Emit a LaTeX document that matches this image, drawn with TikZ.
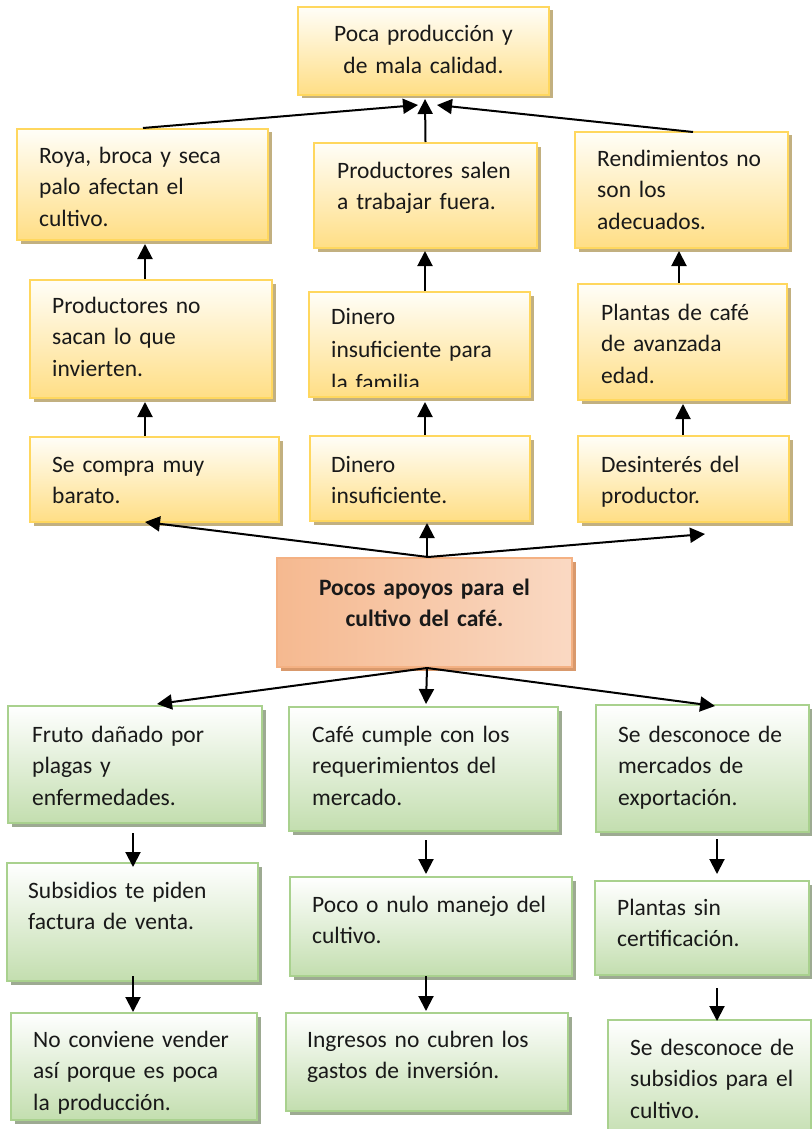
\documentclass[tikz,border=0pt]{standalone}
\usepackage{fontspec}
\setmainfont{Carlito}
\usetikzlibrary{arrows.meta,calc,shadows}
\definecolor{ytop}{HTML}{FFFEF8}
\definecolor{ybot}{HTML}{FFDE85}
\definecolor{ybord}{HTML}{FFD75E}
\definecolor{yshad}{HTML}{C2B080}
\definecolor{gtop}{HTML}{FFFFFF}
\definecolor{gbot}{HTML}{C3DEAF}
\definecolor{gbord}{HTML}{A9D18E}
\definecolor{gshad}{HTML}{9DAA92}
\definecolor{odark}{HTML}{F4B183}
\definecolor{olight}{HTML}{FCE6D8}
\definecolor{oshad}{HTML}{D9996C}
\tikzset{
  ybox/.style={draw=ybord, line width=2pt, top color=ytop, bottom color=ybot, inner sep=0pt,
    general shadow={fill=yshad, shadow xshift=3.5pt, shadow yshift=-3.5pt}},
  gbox/.style={draw=gbord, line width=2pt, top color=gtop, bottom color=gbot, inner sep=0pt,
    general shadow={fill=gshad, shadow xshift=3.5pt, shadow yshift=-3.5pt}},
  obox/.style={draw=odark, line width=2pt, inner sep=0pt, shading angle=120,
    left color=odark!85!olight, middle color=olight, right color=olight!75!odark,
    general shadow={fill=oshad, shadow xshift=3.5pt, shadow yshift=-3.5pt}},
  txt/.style={font=\fontsize{23.5}{31.5}\selectfont, text width=260pt, align=left, anchor=base west, inner sep=0pt, text=black!90},
  ctxt/.style={font=\fontsize{23.5}{31.5}\selectfont, text width=280pt, align=center, anchor=base, inner sep=0pt, text=black!90},
  arr/.style={line width=2pt, -{Triangle[length=15pt,width=15pt]}},
}
\newcommand\mkbox[6]{%
  \pgfmathsetmacro\cx{(#3+#5)/2}\pgfmathsetmacro\cy{(#4+#6)/2}%
  \pgfmathsetmacro\ww{#5-#3}\pgfmathsetmacro\hh{#6-#4}%
  \node[#1, minimum width=\ww pt, minimum height=\hh pt] (#2) at (\cx,\cy) {};}
\begin{document}
\begin{tikzpicture}[x=1pt,y=-1pt]
\useasboundingbox (0,0) rectangle (811,1129);
% yellow boxes
\mkbox{ybox}{top}{298}{7}{549}{95}
\mkbox{ybox}{r1l}{17}{129}{268}{240}
\mkbox{ybox}{r1m}{314}{143}{537}{248}
\mkbox{ybox}{r1r}{575}{132}{788}{248}
\mkbox{ybox}{r2l}{30}{280}{272}{398}
\mkbox{ybox}{r2m}{309}{292}{530}{397}
\mkbox{ybox}{r2r}{578}{284}{787}{400}
\mkbox{ybox}{r3l}{30}{437}{279}{522}
\mkbox{ybox}{r3m}{310}{436}{530}{521}
\mkbox{ybox}{r3r}{578}{436}{789}{522}
% center
\mkbox{obox}{ctr}{277}{558}{572}{667}
% green boxes
\mkbox{gbox}{g1l}{8}{706}{262}{823}
\mkbox{gbox}{g1m}{289}{707}{558}{831}
\mkbox{gbox}{g1r}{596}{705}{809}{832}
\mkbox{gbox}{g2l}{7}{863}{258}{981}
\mkbox{gbox}{g2m}{290}{877}{572}{976}
\mkbox{gbox}{g2r}{595}{881}{809}{975}
\mkbox{gbox}{g3l}{11}{1013}{257}{1120}
\mkbox{gbox}{g3m}{286}{1013}{568}{1111}
\mkbox{gbox}{g3r}{608}{1020}{811}{1140}
% texts
\node[ctxt] (top-t) at (423.5,42) {Poca producción y\\de mala calidad.};
\node[txt] (r1l-t) at (39,163) {Roya, broca y seca\\palo afectan el\\cultivo.};
\node[txt] (r1m-t) at (337,178) {Productores salen\\a trabajar fuera.};
\node[txt] (r1r-t) at (597,166) {Rendimientos no\\son los\\adecuados.};
\node[txt] (r2l-t) at (52,313) {Productores no\\sacan lo que\\invierten.};
\begin{scope}
\clip (309,292) rectangle (530,386);
\node[txt, font=\fontsize{23.5}{33}\selectfont] (r2m-t) at (331,324) {Dinero\\insuficiente para\\la familia.};
\end{scope}
\node[txt] (r2r-t) at (601,320) {Plantas de café\\de avanzada\\edad.};
\node[txt] (r3l-t) at (52,472) {Se compra muy\\barato.};
\node[txt] (r3m-t) at (331,472) {Dinero\\insuficiente.};
\node[txt] (r3r-t) at (601,472) {Desinterés del\\productor.};
\node[ctxt, font=\bfseries\fontsize{23.5}{31}\selectfont] (ctr-t) at (424.5,595) {Pocos apoyos para el\\cultivo del café.};
\node[txt] (g1l-t) at (32,742) {Fruto dañado por\\plagas y\\enfermedades.};
\node[txt] (g1m-t) at (312,742) {Café cumple con los\\requerimientos del\\mercado.};
\node[txt] (g1r-t) at (618,742) {Se desconoce de\\mercados de\\exportación.};
\node[txt] (g2l-t) at (28,898) {Subsidios te piden\\factura de venta.};
\node[txt] (g2m-t) at (312,912) {Poco o nulo manejo del\\cultivo.};
\node[txt] (g2r-t) at (617,915) {Plantas sin\\certificación.};
\node[txt] (g3l-t) at (33,1047) {No conviene vender\\así porque es poca\\la producción.};
\node[txt] (g3m-t) at (307,1047) {Ingresos no cubren los\\gastos de inversión.};
\node[txt] (g3r-t) at (630,1055) {Se desconoce de\\subsidios para el\\cultivo.};
% arrows upper part
\draw[arr] ($(r1l.north)+(0.5,0)$) -- ($(top.south)+(-5.5,9)$);
\draw[arr] ($(r1m.north)+(0,0)$) -- ($(top.south)+(1.5,3)$);
\draw[arr] ($(r1r.north)+(11.5,1)$) -- ($(top.south)+(13.5,9)$);
\draw[arr] ($(r2l.north)+(-6,0)$) -- ($(r1l.south)+(2.5,3)$);
\draw[arr] ($(r2m.north)+(5.5,0)$) -- ($(r1m.south)+(-0.5,2)$);
\draw[arr] ($(r2r.north)+(-3.5,0)$) -- ($(r1r.south)+(-2.5,2)$);
\draw[arr] ($(r3l.north)+(-9.5,0)$) -- ($(r2l.south)+(-6,3)$);
\draw[arr] ($(r3m.north)+(5,0)$) -- ($(r2m.south)+(5.5,4)$);
\draw[arr] ($(r3r.north)+(-0.5,0)$) -- ($(r2r.south)+(0.5,3)$);
\draw[arr] ($(ctr.north)+(3.5,0)$) -- ($(r3l.south)+(-9.5,-1)$);
\draw[arr] ($(ctr.north)+(2.5,0)$) -- ($(r3m.south)+(7,1)$);
\draw[arr] ($(ctr.north)+(3.5,0)$) -- ($(r3r.south)+(21.5,11)$);
% arrows lower part
\draw[arr] ($(ctr.south)+(2.5,0)$) -- ($(g1l.north)+(22,-1)$);
\draw[arr] ($(ctr.south)+(2.5,0)$) -- ($(g1m.north)+(2.5,-2)$);
\draw[arr] ($(ctr.south)+(2.5,0)$) -- ($(g1r.north)+(12.5,2)$);
\draw[arr] ($(g1l.south)+(-2,9)$) -- ($(g2l.north)+(0.5,5)$);
\draw[arr] ($(g2l.south)+(0.5,-6)$) -- ($(g3l.north)+(-1,0)$);
\draw[arr] ($(g1m.south)+(2.5,8)$) -- ($(g2m.north)+(-5,-2)$);
\draw[arr] ($(g2m.south)+(-5,-1)$) -- ($(g3m.north)+(-1,-1)$);
\draw[arr] ($(g1r.south)+(14.5,6)$) -- ($(g2r.north)+(15,-6)$);
\draw[arr] ($(g2r.south)+(15,12)$) -- ($(g3r.north)+(7.5,2)$);
\end{tikzpicture}
\end{document}
